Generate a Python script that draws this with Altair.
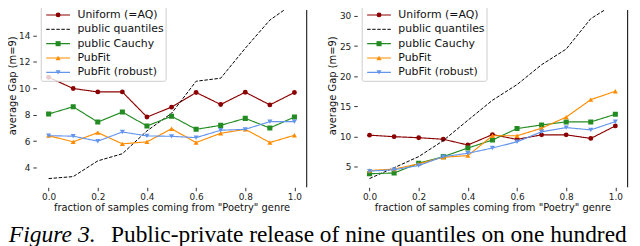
import altair as alt
import pandas as pd

x_vals = [0.0, 0.1, 0.2, 0.3, 0.4, 0.5, 0.6, 0.7, 0.8, 0.9, 1.0]
series_names = ["Uniform (=AQ)", "public quantiles", "public Cauchy", "PubFit", "PubFit (robust)"]

# left panel
left_uniform = [10.83, 9.98, 9.72, 9.72, 7.82, 8.57, 9.68, 8.77, 9.70, 8.74, 9.68]
left_quantiles = [3.16, 3.31, 4.50, 5.04, 6.77, 8.10, 10.53, 10.76, 13.03, 15.16, 16.47]
left_cauchy = [8.05, 8.60, 7.44, 8.20, 7.14, 7.88, 6.89, 7.19, 7.72, 6.99, 7.82]
left_pubfit = [6.41, 5.94, 6.64, 5.79, 5.94, 6.93, 5.89, 6.59, 6.89, 5.89, 6.44]
left_robust = [6.41, 6.37, 5.99, 6.69, 6.39, 6.36, 6.26, 6.82, 6.89, 7.47, 7.47]

# right panel
right_uniform = [10.20, 9.95, 9.78, 9.52, 8.57, 10.30, 9.50, 10.26, 10.26, 9.66, 11.74]
right_quantiles = [3.00, 4.80, 6.64, 9.30, 12.68, 16.00, 18.60, 21.90, 24.50, 29.55, 32.10]
right_cauchy = [3.80, 3.92, 5.54, 6.64, 8.07, 9.39, 11.30, 11.90, 12.40, 12.40, 13.67]
right_pubfit = [4.34, 4.56, 5.44, 6.53, 6.81, 10.10, 10.10, 11.36, 13.20, 16.10, 17.50]
right_robust = [4.23, 4.46, 5.16, 6.64, 7.19, 8.07, 9.10, 10.76, 11.46, 11.08, 12.45]

left_ticks = [4, 6, 8, 10, 12, 14, 16]
right_ticks = [5, 10, 15, 20, 25, 30]
x_ticks = [0.0, 0.2, 0.4, 0.6, 0.8, 1.0]

colors = ["#8b0000", "#000000", "#228b22", "#ff8c00", "#6495ed"]
shapes = ["circle", None, "square", "triangle-up", "triangle-down"]
dashes = [[1, 0], [3.5, 1.6], [1, 0], [1, 0], [1, 0]]

x_title = 'fraction of samples coming from "Poetry" genre'
y_title = "average Gap (m=9)"
caption_italic = "Figure 3."
caption_roman = "Public-private release of nine quantiles on one hundred"

W, H = 273, 179
FONT = "DejaVu Sans"


def panel(values, y_domain, y_ticks, with_caption):
    xenc = alt.X(
        "x:Q",
        scale=alt.Scale(domain=[-0.05, 1.05], nice=False, zero=False),
        axis=alt.Axis(
            values=x_ticks, format=".1f", title=x_title, grid=False, domain=False,
            tickSize=3.5, tickColor="#333333", labelPadding=1.8,
            labelFont=FONT, labelFontSize=9, labelColor="#222222",
            titleFont=FONT, titleFontSize=10, titleFontWeight="normal", titleColor="#111111",
            titleX=W / 2, titleY=23, titleBaseline="alphabetic",
        ),
    )
    yenc = alt.Y(
        "y:Q",
        scale=alt.Scale(domain=y_domain, nice=False, zero=False),
        axis=alt.Axis(
            values=y_ticks, title=y_title, grid=False, domain=False,
            tickSize=3.5, tickColor="#333333", labelPadding=3,
            labelFont=FONT, labelFontSize=9, labelColor="#222222",
            titleFont=FONT, titleFontSize=10, titleFontWeight="normal", titleColor="#111111",
            titleX=-19.5, titleY=76,
        ),
    )
    layers = []
    for name, vals, col, shp, dsh in zip(series_names, values, colors, shapes, dashes):
        df = pd.DataFrame({"x": x_vals, "y": vals})
        base = alt.Chart(df)
        layers.append(
            base.mark_line(color=col, strokeWidth=1.15 if shp else 1.0, strokeDash=dsh, clip=True)
            .encode(x=xenc, y=yenc)
        )
        if shp:
            layers.append(
                base.mark_point(shape=shp, filled=True, size=26 if shp != "circle" else 24,
                                color=col, opacity=1, clip=True)
                .encode(x=xenc, y=yenc)
            )
    one = pd.DataFrame({"k": [0]})
    # right spine
    layers.append(
        alt.Chart(one).mark_rule(color="black", strokeWidth=1)
        .encode(x=alt.value(W), y=alt.value(0), y2=alt.value(H))
    )
    # legend
    bx = 5
    layers.append(
        alt.Chart(one).mark_rect(fill="white", fillOpacity=0.8, stroke="#cccccc",
                                 strokeWidth=1, cornerRadius=2)
        .encode(x=alt.value(bx), x2=alt.value(bx + 126), y=alt.value(-12), y2=alt.value(72))
    )
    for i, (name, col, shp, dsh) in enumerate(zip(series_names, colors, shapes, dashes)):
        yy = 5 + 14.5 * i
        ldf = pd.DataFrame({"label": [name]})
        lc = alt.Chart(ldf)
        layers.append(
            lc.mark_rule(color=col, strokeWidth=1.15 if shp else 1.0, strokeDash=dsh)
            .encode(x=alt.value(bx + 5), x2=alt.value(bx + 29), y=alt.value(yy))
        )
        if shp:
            layers.append(
                lc.mark_point(shape=shp, filled=True, size=26 if shp != "circle" else 24,
                              color=col, opacity=1)
                .encode(x=alt.value(bx + 17), y=alt.value(yy))
            )
        layers.append(
            lc.mark_text(align="left", baseline="middle", font=FONT, fontSize=11, color="#111111")
            .encode(text="label:N", x=alt.value(bx + 36.5), y=alt.value(yy))
        )
    if with_caption:
        layers.append(
            alt.Chart(pd.DataFrame({"t": [caption_italic]}))
            .mark_text(align="left", baseline="alphabetic", font="Liberation Serif",
                       fontSize=23.8, fontStyle="italic", color="black")
            .encode(text="t:N", x=alt.value(-27.8), y=alt.value(234.5))
        )
        layers.append(
            alt.Chart(pd.DataFrame({"t": [caption_roman]}))
            .mark_text(align="left", baseline="alphabetic", font="Liberation Serif",
                       fontSize=23.6, color="black")
            .encode(text="t:N", x=alt.value(75.4), y=alt.value(234.5))
        )
    return alt.layer(*layers).properties(width=W, height=H)


left = panel([left_uniform, left_quantiles, left_cauchy, left_pubfit, left_robust],
             [2.5, 15.925], left_ticks, True)
right = panel([right_uniform, right_quantiles, right_cauchy, right_pubfit, right_robust],
              [1.546, 30.99], right_ticks, False)

chart = (
    alt.hconcat(left, right, spacing=51, bounds="flush")
    .properties(
        autosize=alt.AutoSizeParams(type="none"),
        padding={"left": 28.6, "top": 0, "right": 601.4, "bottom": 240},
    )
    .configure_view(stroke=None)
)

chart.save("out.html", embed_options={"renderer": "svg", "actions": False})
